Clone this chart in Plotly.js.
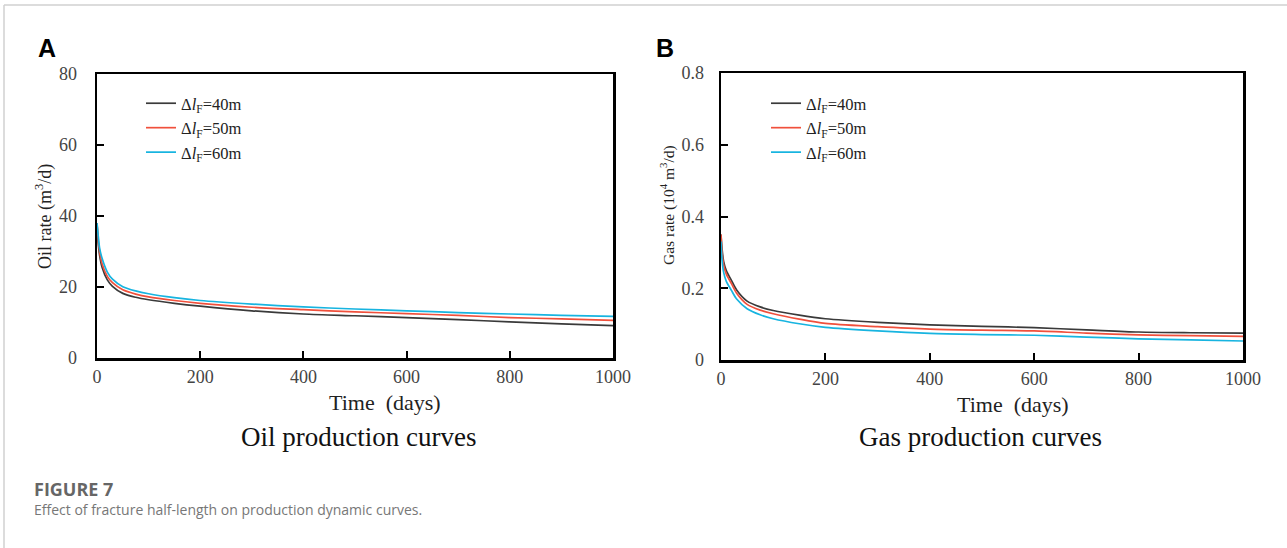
<!DOCTYPE html>
<html>
<head>
<meta charset="utf-8">
<script src="https://cdn.plot.ly/plotly-3.0.1.min.js"></script>
<style>html,body{margin:0;padding:0;background:#fff}#chart{width:1287px;height:548px}</style>
</head>
<body>
<div id="chart"></div>
<script>
// ---- data ----
const timeDays = [0, 2, 5, 10, 20, 30, 50, 75, 100, 150, 200, 300, 400, 500, 600, 700, 800, 900, 1000];
const seriesNames = ["Δ<i>l</i><sub>F</sub>=40m", "Δ<i>l</i><sub>F</sub>=50m", "Δ<i>l</i><sub>F</sub>=60m"];
const oilRate40 = [38, 33, 29, 25.5, 22, 20.2, 18.2, 17.1, 16.4, 15.4, 14.6, 13.3, 12.4, 11.9, 11.4, 10.8, 10.2, 9.6, 9.1];
const oilRate50 = [38, 34, 30, 26.5, 23, 21.2, 19.2, 18.0, 17.2, 16.2, 15.4, 14.3, 13.6, 13.0, 12.5, 12.0, 11.4, 11.0, 10.6];
const oilRate60 = [38, 35, 31, 28, 24.2, 22.2, 20.1, 18.9, 18.1, 17.0, 16.2, 15.2, 14.4, 13.8, 13.3, 12.8, 12.4, 12.0, 11.7];
const gasRate40 = [0.35, 0.31, 0.275, 0.25, 0.222, 0.195, 0.164, 0.148, 0.138, 0.125, 0.115, 0.105, 0.098, 0.094, 0.090, 0.084, 0.078, 0.076, 0.075];
const gasRate50 = [0.35, 0.30, 0.265, 0.24, 0.213, 0.186, 0.155, 0.139, 0.129, 0.114, 0.102, 0.093, 0.086, 0.083, 0.081, 0.075, 0.070, 0.068, 0.066];
const gasRate60 = [0.33, 0.28, 0.245, 0.22, 0.194, 0.17, 0.143, 0.126, 0.115, 0.101, 0.091, 0.081, 0.074, 0.071, 0.069, 0.064, 0.059, 0.056, 0.053];
const xTicks = [0, 200, 400, 600, 800, 1000];
const oilTicks = [0, 20, 40, 60, 80];
const gasTicks = [0, 0.2, 0.4, 0.6, 0.8];

// ---- styling ----
const W = 1287, H = 548;
const px = x => x / W, py = y => 1 - y / H;
const colors = ["#3a3a3a", "#f0503c", "#17b4e0"];
const serif = "Liberation Serif, Times New Roman, serif";

function trace(y, i, xa, ya, leg) {
  return {x: timeDays, y: y, type: "scatter", mode: "lines", name: seriesNames[i],
    line: {color: colors[i], width: 1.7, shape: "spline", smoothing: 0.8},
    xaxis: xa, yaxis: ya, legend: leg, showlegend: true};
}
const data = [
  trace(oilRate40, 0, "x", "y", "legend"),
  trace(oilRate50, 1, "x", "y", "legend"),
  trace(oilRate60, 2, "x", "y", "legend"),
  trace(gasRate40, 0, "x2", "y2", "legend2"),
  trace(gasRate50, 1, "x2", "y2", "legend2"),
  trace(gasRate60, 2, "x2", "y2", "legend2")
];

function xAxis(domain, anchor) {
  return {domain: domain, anchor: anchor, range: [0, 1000], tickvals: xTicks,
    showline: true, linecolor: "#000", linewidth: 2.5, mirror: true,
    ticks: "inside", ticklen: 7, tickwidth: 2, tickcolor: "#000",
    showgrid: false, zeroline: false, ticklabelstandoff: 1,
    tickfont: {family: serif, size: 18, color: "#444"}};
}
function yAxis(domain, anchor, range, ticks, standoff) {
  return {domain: domain, anchor: anchor, range: range, tickvals: ticks,
    showline: true, linecolor: "#000", linewidth: 2.5, mirror: true,
    ticks: "inside", ticklen: 7, tickwidth: 2, tickcolor: "#000",
    showgrid: false, zeroline: false, ticklabelstandoff: standoff,
    tickfont: {family: serif, size: 18, color: "#444"}};
}
function ann(text, x, y, size, opts) {
  return Object.assign({text: text, x: px(x), y: py(y), xref: "paper", yref: "paper",
    showarrow: false, xanchor: "center", yanchor: "middle",
    font: {family: serif, size: size, color: "#222"}}, opts || {});
}
const legendStyle = {font: {family: serif, size: 16.5, color: "#222"}, bgcolor: "rgba(0,0,0,0)",
  borderwidth: 0, xanchor: "left", yanchor: "top", tracegroupgap: 0, itemwidth: 30};

const layout = {
  width: W, height: H, margin: {l: 0, r: 0, t: 0, b: 0},
  paper_bgcolor: "#fff", plot_bgcolor: "#fff",
  xaxis: xAxis([px(97), px(613)], "y"),
  yaxis: yAxis([py(358), py(74)], "x", [0, 80], oilTicks, 14),
  xaxis2: xAxis([px(721), px(1243)], "y2"),
  yaxis2: yAxis([py(360), py(73)], "x2", [0, 0.8], gasTicks, 11),
  legend: Object.assign({x: px(141), y: py(86)}, legendStyle),
  legend2: Object.assign({x: px(766), y: py(86)}, legendStyle),
  annotations: [
    ann("<b>A</b>", 47, 48, 25, {font: {family: "Liberation Sans, Arial, sans-serif", size: 25, color: "#000"}}),
    ann("<b>B</b>", 665, 48, 25, {font: {family: "Liberation Sans, Arial, sans-serif", size: 25, color: "#000"}}),
    ann("Oil rate (m<sup>3</sup>/d)", 44, 217, 18, {textangle: -90}),
    ann("Gas rate (10<sup>4</sup> m<sup>3</sup>/d)", 668, 205, 15.5, {textangle: -90}),
    ann("Time\u2002(days)", 385, 402, 22),
    ann("Time\u2002(days)", 1013, 404, 22),
    ann("Oil production curves", 359, 437, 27, {font: {family: serif, size: 27, color: "#111"}}),
    ann("Gas production curves", 981, 437, 27, {font: {family: serif, size: 27, color: "#111"}}),
    ann("<b>FIGURE 7</b>", 32, 489, 18, {xanchor: "left", font: {family: "Open Sans, sans-serif", size: 18, color: "#666"}}),
    ann("Effect of fracture half-length on production dynamic curves.", 32, 509, 14,
      {xanchor: "left", font: {family: "Open Sans, sans-serif", size: 14, color: "#777"}})
  ],
  shapes: [
    {type: "line", xref: "paper", yref: "paper", x0: px(4), x1: 1, y0: py(5), y1: py(5), line: {color: "#d0d0d0", width: 1.5}},
    {type: "line", xref: "paper", yref: "paper", x0: px(4), x1: px(4), y0: py(5), y1: 0, line: {color: "#d0d0d0", width: 1.5}}
  ]
};
Plotly.newPlot("chart", data, layout, {displayModeBar: false, staticPlot: true});
</script>
</body>
</html>
